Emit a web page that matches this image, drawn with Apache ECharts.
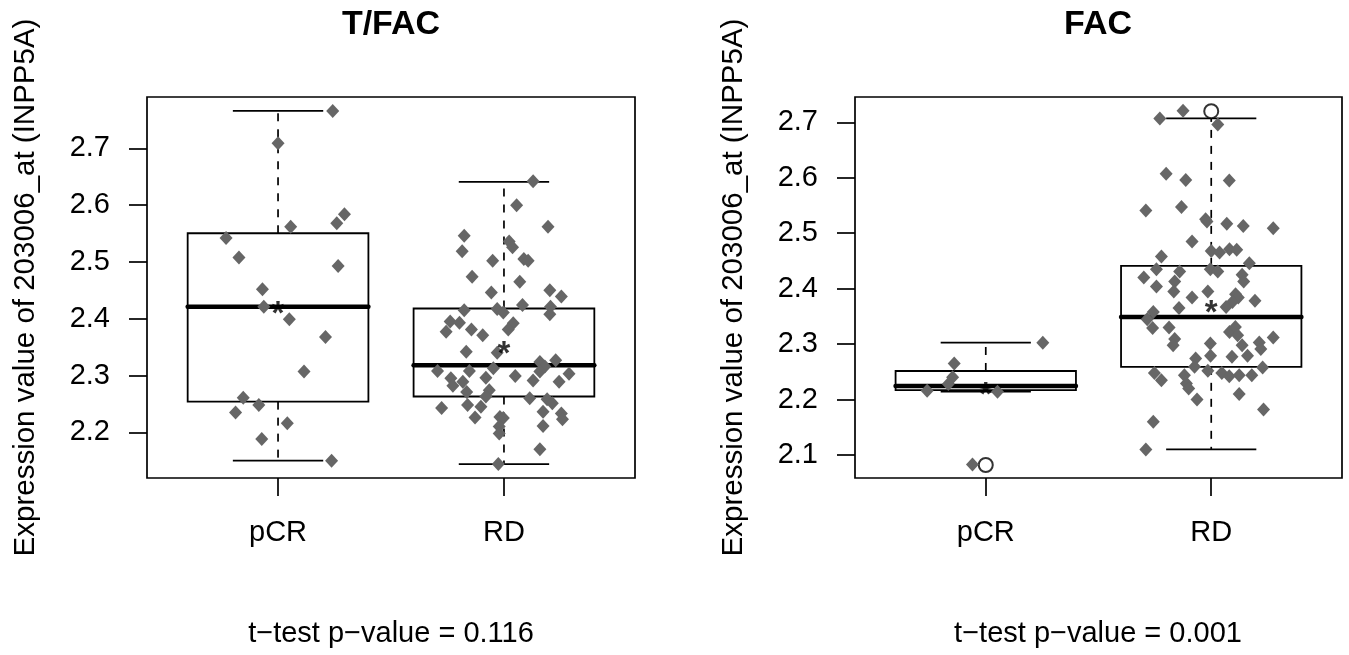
<!DOCTYPE html>
<html>
<head>
<meta charset="utf-8">
<script src="https://cdn.jsdelivr.net/npm/echarts@6/dist/echarts.min.js"></script>
<style>
html, body { margin: 0; padding: 0; background: #fff; }
#chart { width: 1349px; height: 655px; }
</style>
</head>
<body>
<div id="chart"></div>
<script>
// ---------- data ----------
const categories = ['pCR', 'RD'];
const panelTitles = ['T/FAC', 'FAC'];
const pValueTexts = ['t\u2212test p\u2212value = 0.116', 't\u2212test p\u2212value = 0.001'];
const yLabel = 'Expression value of 203006_at (INPP5A)';
const yTicksTfac = [2.2, 2.3, 2.4, 2.5, 2.6, 2.7];
const yTicksFac = [2.1, 2.2, 2.3, 2.4, 2.5, 2.6, 2.7];

// T/FAC, pCR
const tfacPcrValues = [2.766, 2.709, 2.584, 2.568, 2.562, 2.542, 2.508, 2.493, 2.452, 2.421, 2.399, 2.368, 2.307, 2.261, 2.248, 2.235, 2.216, 2.188, 2.150];
const tfacPcrJitter = [0.242, 0.0, 0.294, 0.26, 0.056, -0.23, -0.173, 0.266, -0.069, -0.063, 0.05, 0.21, 0.115, -0.154, -0.085, -0.188, 0.041, -0.072, 0.237];
// T/FAC, RD
const tfacRdValues = [2.642, 2.600, 2.562, 2.546, 2.519, 2.536, 2.526, 2.502, 2.505, 2.502, 2.474, 2.465, 2.446, 2.450, 2.439, 2.424, 2.421, 2.415, 2.417, 2.411, 2.408, 2.395, 2.393, 2.377, 2.381, 2.371, 2.392, 2.381, 2.342, 2.340, 2.327, 2.324, 2.316, 2.308, 2.308, 2.313, 2.303, 2.299, 2.307, 2.295, 2.296, 2.289, 2.291, 2.282, 2.289, 2.271, 2.274, 2.263, 2.260, 2.258, 2.251, 2.243, 2.248, 2.245, 2.236, 2.233, 2.226, 2.227, 2.225, 2.223, 2.210, 2.211, 2.198, 2.170, 2.144];
const tfacRdJitter = [0.129, 0.056, 0.195, -0.176, -0.185, 0.023, 0.038, -0.05, 0.088, 0.107, -0.141, 0.07, -0.056, 0.203, 0.254, 0.082, 0.206, -0.176, -0.03, -0.003, 0.203, -0.238, -0.197, -0.256, -0.144, -0.094, 0.041, 0.019, -0.167, -0.03, 0.229, 0.159, 0.181, -0.294, -0.153, -0.047, 0.288, 0.05, 0.159, -0.235, -0.08, 0.244, 0.129, -0.226, -0.182, -0.165, -0.065, -0.08, 0.114, 0.191, 0.214, -0.276, -0.161, -0.102, 0.173, 0.254, -0.128, -0.018, -0.003, 0.259, -0.021, 0.173, -0.021, 0.159, -0.025];
// FAC, pCR
const facPcrValues = [2.3025, 2.265, 2.240, 2.228, 2.216, 2.214, 2.083];
const facPcrJitter = [0.253, -0.14, -0.147, -0.166, -0.26, 0.052, -0.059];
// FAC, RD
const facRdValues = [2.721, 2.707, 2.696, 2.607, 2.596, 2.595, 2.541, 2.547, 2.525, 2.521, 2.517, 2.513, 2.509, 2.485, 2.468, 2.465, 2.471, 2.470, 2.458, 2.446, 2.435, 2.431, 2.435, 2.431, 2.420, 2.425, 2.413, 2.413, 2.404, 2.395, 2.395, 2.384, 2.390, 2.384, 2.376, 2.378, 2.365, 2.367, 2.358, 2.345, 2.329, 2.330, 2.322, 2.331, 2.316, 2.312, 2.309, 2.298, 2.301, 2.298, 2.303, 2.291, 2.279, 2.274, 2.277, 2.279, 2.259, 2.252, 2.258, 2.248, 2.248, 2.242, 2.244, 2.244, 2.235, 2.244, 2.229, 2.220, 2.210, 2.200, 2.182, 2.160, 2.110];
const facRdJitter = [-0.125, -0.228, 0.029, -0.2, -0.113, 0.08, -0.29, -0.132, -0.025, -0.019, 0.069, 0.142, 0.275, -0.085, 0.0, 0.037, 0.081, 0.113, -0.221, 0.169, -0.243, -0.14, -0.004, 0.029, -0.299, 0.137, 0.144, -0.162, -0.243, -0.166, -0.015, -0.085, 0.108, 0.12, 0.094, 0.194, -0.143, 0.066, -0.257, -0.284, -0.26, -0.187, 0.081, 0.107, 0.117, 0.275, -0.162, -0.169, -0.004, 0.137, 0.213, 0.22, -0.003, -0.069, 0.092, 0.161, -0.074, -0.015, 0.228, -0.252, 0.047, 0.08, 0.124, 0.18, -0.221, -0.119, -0.11, -0.1, 0.124, -0.063, 0.232, -0.257, -0.29];

// box statistics per group: [lower whisker, Q1, median, Q3, upper whisker]
const tfacBoxStats = [[2.150, 2.254, 2.421, 2.5505, 2.766], [2.144, 2.263, 2.318, 2.418, 2.641]];
const facBoxStats = [[2.214, 2.217, 2.2245, 2.2515, 2.3025], [2.110, 2.259, 2.349, 2.441, 2.707]];
const tfacMeans = [2.420, 2.350];
const facMeans = [2.221, 2.368];
const tfacOutliers = [[], []];
const facOutliers = [[2.082], [2.720]];

// axis extents (R default: data range extended by 4%)
const tfacYRange = [2.1195, 2.7905];
const facYRange = [2.0585, 2.7456];
const xRange = [0.42, 2.58];

// ---------- build ----------
const FONT = '"Liberation Sans", Arial, Helvetica, sans-serif';
const BOX_HALF = 0.4, STAPLE_HALF = 0.2;

function jitterPoints(groups) {
  const out = [];
  groups.forEach((g, gi) => {
    g.values.forEach((v, i) => out.push([gi + 1 + g.jitter[i], v]));
  });
  return out;
}
function boxData(stats) { return stats.map((s, i) => [i + 1].concat(s)); }
function meanData(means) { return means.map((m, i) => [i + 1, m]); }
function outlierData(outs) {
  const r = [];
  outs.forEach((arr, i) => arr.forEach(v => r.push([i + 1, v])));
  return r;
}

function renderBox(params, api) {
  const x = api.value(0);
  const lo = api.value(1), q1 = api.value(2), md = api.value(3), q3 = api.value(4), hi = api.value(5);
  const c = (a, b) => api.coord([a, b]);
  const tl = c(x - BOX_HALF, q3), br = c(x + BOX_HALF, q1);
  const mL = c(x - BOX_HALF, md), mR = c(x + BOX_HALF, md);
  const cq3 = c(x, q3), chi = c(x, hi), cq1 = c(x, q1), clo = c(x, lo);
  const sHiL = c(x - STAPLE_HALF, hi), sHiR = c(x + STAPLE_HALF, hi);
  const sLoL = c(x - STAPLE_HALF, lo), sLoR = c(x + STAPLE_HALF, lo);
  const solid = { stroke: '#000', lineWidth: 1.7, fill: null };
  const dashed = { stroke: '#000', lineWidth: 1.7, lineDash: [8, 8], fill: null };
  return {
    type: 'group',
    children: [
      { type: 'line', shape: { x1: cq3[0], y1: cq3[1], x2: chi[0], y2: chi[1] }, style: dashed },
      { type: 'line', shape: { x1: cq1[0], y1: cq1[1], x2: clo[0], y2: clo[1] }, style: dashed },
      { type: 'line', shape: { x1: sHiL[0], y1: sHiL[1], x2: sHiR[0], y2: sHiR[1] }, style: solid },
      { type: 'line', shape: { x1: sLoL[0], y1: sLoL[1], x2: sLoR[0], y2: sLoR[1] }, style: solid },
      { type: 'rect', shape: { x: tl[0], y: tl[1], width: br[0] - tl[0], height: br[1] - tl[1] }, style: { stroke: '#000', lineWidth: 1.8, fill: null } },
      { type: 'line', shape: { x1: mL[0], y1: mL[1], x2: mR[0], y2: mR[1] }, style: { stroke: '#000', lineWidth: 4.5, lineCap: 'round' } }
    ]
  };
}

const panels = [
  { stats: tfacBoxStats, means: tfacMeans, outs: tfacOutliers, yRange: tfacYRange, yTicks: yTicksTfac,
    groups: [{ values: tfacPcrValues, jitter: tfacPcrJitter }, { values: tfacRdValues, jitter: tfacRdJitter }],
    grid: { left: 147, top: 97, width: 488, height: 381 }, cx: 391 },
  { stats: facBoxStats, means: facMeans, outs: facOutliers, yRange: facYRange, yTicks: yTicksFac,
    groups: [{ values: facPcrValues, jitter: facPcrJitter }, { values: facRdValues, jitter: facRdJitter }],
    grid: { left: 855, top: 97, width: 487, height: 381 }, cx: 1098 }
];

const grids = [], xAxes = [], yAxes = [], series = [], titles = [];
panels.forEach((p, i) => {
  grids.push(Object.assign({ show: true, borderColor: '#000', borderWidth: 1.7, backgroundColor: 'transparent' }, p.grid));
  xAxes.push({
    type: 'value', gridIndex: i, min: xRange[0], max: xRange[1],
    axisLine: { show: false }, splitLine: { show: false },
    axisTick: { show: true, customValues: [1, 2], length: 18, lineStyle: { color: '#000', width: 1.7 } },
    axisLabel: { show: true, customValues: [1, 2], formatter: v => categories[Math.round(v) - 1], margin: 40,
      fontSize: 29, color: '#000', fontFamily: FONT }
  });
  yAxes.push({
    type: 'value', gridIndex: i, min: p.yRange[0], max: p.yRange[1],
    axisLine: { show: false }, splitLine: { show: false },
    axisTick: { show: true, customValues: p.yTicks, length: 18, lineStyle: { color: '#000', width: 1.7 } },
    axisLabel: { show: true, customValues: p.yTicks, formatter: v => v.toFixed(1), margin: 37,
      fontSize: 29, color: '#000', fontFamily: FONT },
    name: yLabel, nameLocation: 'middle', nameGap: 106,
    nameTextStyle: { fontSize: 29.5, color: '#000', fontFamily: FONT }
  });
  series.push({
    type: 'custom', xAxisIndex: i, yAxisIndex: i, z: 1, silent: true,
    renderItem: renderBox, encode: { x: 0, y: [1, 2, 3, 4, 5] }, data: boxData(p.stats)
  });
  series.push({
    type: 'scatter', xAxisIndex: i, yAxisIndex: i, z: 2, silent: true,
    symbol: 'emptyCircle', symbolSize: 14,
    itemStyle: { color: '#000', borderColor: '#000', borderWidth: 1.6 },
    data: outlierData(p.outs)
  });
  series.push({
    type: 'scatter', xAxisIndex: i, yAxisIndex: i, z: 3, silent: true,
    symbol: 'diamond', symbolSize: [13, 14],
    itemStyle: { color: '#666666', opacity: 1 },
    data: jitterPoints(p.groups)
  });
  series.push({
    type: 'scatter', xAxisIndex: i, yAxisIndex: i, z: 4, silent: true,
    symbol: 'circle', symbolSize: 1, itemStyle: { color: 'rgba(0,0,0,0)' },
    label: { show: true, formatter: '*', position: 'inside', offset: [0, 8], fontSize: 33, fontWeight: 'bold', color: '#000', fontFamily: FONT },
    data: meanData(p.means)
  });
  titles.push({ text: panelTitles[i], left: p.cx, top: 8, textAlign: 'center', padding: 0,
    textStyle: { fontSize: 34, fontWeight: 'bold', color: '#000', fontFamily: FONT } });
  titles.push({ text: pValueTexts[i], left: p.cx, top: 619, textAlign: 'center', padding: 0,
    textStyle: { fontSize: 29, fontWeight: 'normal', color: '#000', fontFamily: FONT } });
});

const chart = echarts.init(document.getElementById('chart'), null, { renderer: 'canvas' });
chart.setOption({
  animation: false,
  backgroundColor: '#fff',
  title: titles,
  grid: grids,
  xAxis: xAxes,
  yAxis: yAxes,
  series: series
});
</script>
</body>
</html>
